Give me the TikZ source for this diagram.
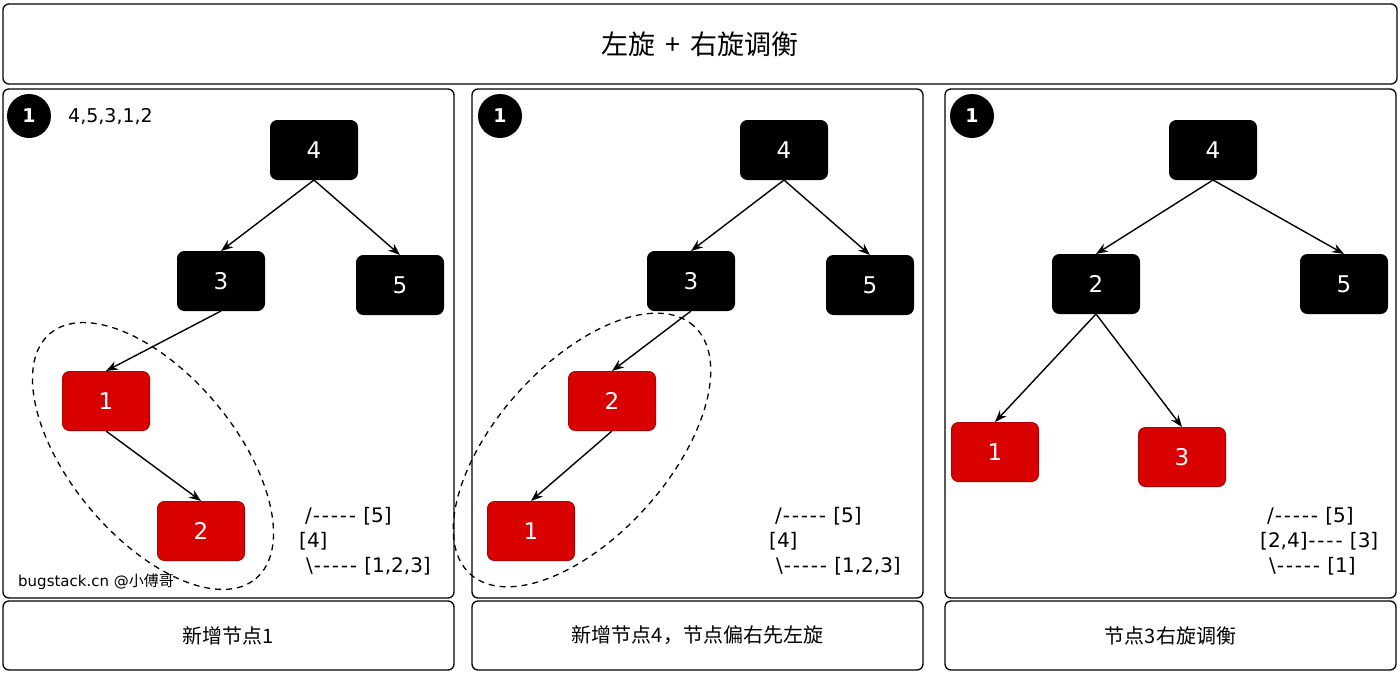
\documentclass[tikz,border=0pt]{standalone}
\usepackage{fontspec}
\setmainfont{Noto Sans CJK SC}
\newfontfamily\latinfont{DejaVu Sans}
\usetikzlibrary{arrows.meta}
\definecolor{nred}{HTML}{D90000}
\definecolor{nredd}{HTML}{B00000}
\newcommand\hy{\makebox[9pt]{-}}
\newcommand\dashes{\hy\hy\hy\hy\hy}
\begin{document}
\begin{tikzpicture}[x=1pt,y=-1pt,
 frame/.style={draw=black,line width=1.3pt,rounded corners=6pt,inner sep=0pt},
 bnode/.style={draw=black,fill=black,rounded corners=7pt,minimum width=87pt,minimum height=59pt,text=white,font=\latinfont\fontsize{23}{27}\selectfont,inner sep=0pt,line width=1pt},
 rnode/.style={bnode,draw=nredd,fill=nred},
 edge/.style={-{Stealth[length=12pt,width=9pt]},line width=1.4pt},
 num/.style={circle,fill=black,minimum size=44pt,inner sep=0pt,text=white,font=\latinfont\fontsize{19}{23}\selectfont\bfseries},
 ttext/.style={anchor=west,inner sep=0pt,font=\latinfont\fontsize{20}{24}\selectfont},
 oval/.style={line width=1.3pt,dash pattern=on 6pt off 5pt}
]
\useasboundingbox (0,0) rectangle (1400,672);
% frames
\node[frame,minimum width=1394pt,minimum height=80pt,font=\fontsize{27}{32}\selectfont] (title) at (700,44) {左旋\hspace{10pt}+\hspace{10pt}右旋调衡};
\node[frame,minimum width=451pt,minimum height=509pt] (panel1) at (228.5,343.5) {};
\node[frame,minimum width=451pt,minimum height=509pt] (panel2) at (697.5,343.5) {};
\node[frame,minimum width=451pt,minimum height=509pt] (panel3) at (1170.5,343.5) {};
\node[frame,minimum width=451pt,minimum height=69pt,font=\fontsize{20}{24}\selectfont] (cap1) at (228.5,635.5) {新增节点1};
\node[frame,minimum width=451pt,minimum height=69pt,font=\fontsize{20}{24}\selectfont] (cap2) at (697.5,635.5) {新增节点4，节点偏右先左旋};
\node[frame,minimum width=451pt,minimum height=69pt,font=\fontsize{20}{24}\selectfont] (cap3) at (1170.5,635.5) {节点3右旋调衡};
% number badges
\node[num] (b1) at (29,116) {1};
\node[num] (b2) at (500,116) {1};
\node[num] (b3) at (972,116) {1};
\node[ttext,font=\latinfont\fontsize{19}{23}\selectfont] (seq) at (68,117) {4,5,3,1,2};
% ellipses
\draw[oval,rotate around={-50:(153,456)}] (153,456) ellipse [x radius=160pt,y radius=82pt];
\draw[oval,rotate around={48:(582,450)}] (582,450) ellipse [x radius=167pt,y radius=86pt];
% panel 1 tree
\node[bnode] (a4) at (314,150) {4};
\node[bnode] (a3) at (221,281) {3};
\node[bnode] (a5) at (400,285) {5};
\node[rnode] (a1) at (106,401) {1};
\node[rnode] (a2) at (201,531) {2};
\draw[edge] (a4.south) -- (a3.north);
\draw[edge] (a4.south) -- (a5.north);
\draw[edge] (a3.south) -- (a1.north);
\draw[edge] (a1.south) -- (a2.north);
% panel 2 tree
\node[bnode] (c4) at (784,150) {4};
\node[bnode] (c3) at (691,281) {3};
\node[bnode] (c5) at (870,285) {5};
\node[rnode] (c2) at (612,401) {2};
\node[rnode] (c1) at (531,531) {1};
\draw[edge] (c4.south) -- (c3.north);
\draw[edge] (c4.south) -- (c5.north);
\draw[edge] (c3.south) -- (c2.north);
\draw[edge] (c2.south) -- (c1.north);
% panel 3 tree
\node[bnode] (d4) at (1213,150) {4};
\node[bnode] (d2) at (1096,284) {2};
\node[bnode] (d5) at (1344,284) {5};
\node[rnode] (d1) at (995,452) {1};
\node[rnode] (d3) at (1182,457) {3};
\draw[edge] (d4.south) -- (d2.north);
\draw[edge] (d4.south) -- (d5.north);
\draw[edge] (d2.south) -- (d1.north);
\draw[edge] (d2.south) -- (d3.north);
% tree texts
\node[ttext] (t1a) at (305,516) {/\dashes{} [5]};
\node[ttext] (t1b) at (299,541) {[4]};
\node[ttext] (t1c) at (306,566) {\textbackslash\dashes{} [1,2,3]};
\node[ttext] (t2a) at (775,516) {/\dashes{} [5]};
\node[ttext] (t2b) at (769,541) {[4]};
\node[ttext] (t2c) at (776,566) {\textbackslash\dashes{} [1,2,3]};
\node[ttext] (t3a) at (1267,516) {/\dashes{} [5]};
\node[ttext] (t3b) at (1260,541) {[2,4]\hy\hy\hy\hy{} [3]};
\node[ttext] (t3c) at (1269,566) {\textbackslash\dashes{} [1]};
\node[anchor=west,inner sep=0pt,font=\fontsize{15}{18}\selectfont] (wm) at (18,582) {{\latinfont bugstack.cn @}小傅哥};
\end{tikzpicture}
\end{document}
